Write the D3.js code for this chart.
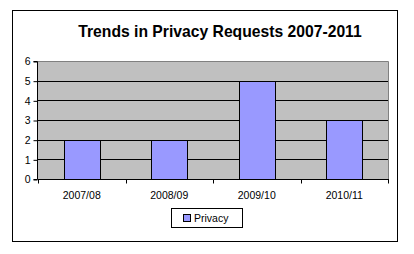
<!DOCTYPE html>
<html lang="en">
<head>
	<meta charset="utf-8">
	<title>Trends in Privacy Requests</title>
	<style>
		body { margin: 0; background: #fff; }
		text { font-family: "Liberation Sans", Arial, sans-serif; }
	</style>
	<script type="text/javascript" src="https://d3js.org/d3.v7.min.js"></script>
</head>
<body>
	<script type="text/javascript">
            var years = ["2007/08", "2008/09", "2009/10", "2010/11"];
            var privacy = [2, 2, 5, 3];
            var yTicks = [0, 1, 2, 3, 4, 5, 6];

            var w = 414, h = 254;
            var pLeft = 38, pRight = 388, pTop = 61, pBottom = 179;

            var svg = d3.select("body").append("svg")
                .attr("width", w)
                .attr("height", h);

            // outer frame
            svg.append("rect")
                .attr("x", 12.5).attr("y", 10.5)
                .attr("width", 385).attr("height", 231)
                .attr("fill", "white").attr("stroke", "black");

            svg.append("text")
                .attr("x", 220).attr("y", 37)
                .attr("text-anchor", "middle")
                .attr("font-size", "15.7px")
                .attr("font-weight", "bold")
                .text("Trends in Privacy Requests 2007-2011");

            var x = d3.scaleBand()
                .domain(years)
                .range([pLeft, pRight])
                .paddingInner(0.59)
                .paddingOuter(0.295);
            var y = d3.scaleLinear()
                .domain([0, 6])
                .range([pBottom, pTop]);

            // plot area
            svg.append("rect")
                .attr("x", pLeft).attr("y", pTop)
                .attr("width", pRight - pLeft).attr("height", pBottom - pTop)
                .attr("fill", "#c0c0c0");
            svg.append("path")
                .attr("d", "M" + pLeft + "," + (pTop + 0.5) + "H" + (pRight + 0.5) + "V" + pBottom)
                .attr("fill", "none").attr("stroke", "#808080");

            svg.selectAll("line.grid")
                .data(yTicks.filter(d => d > 0 && d < 6))
                .enter().append("line")
                .attr("class", "grid")
                .attr("x1", pLeft).attr("x2", pRight)
                .attr("y1", d => Math.round(y(d)) + 0.5)
                .attr("y2", d => Math.round(y(d)) + 0.5)
                .attr("stroke", "black");

            svg.selectAll("rect.bar")
                .data(privacy)
                .enter().append("rect")
                .attr("class", "bar")
                .attr("x", (d, i) => Math.round(x(years[i])) + 0.5)
                .attr("y", d => Math.round(y(d)) + 0.5)
                .attr("width", Math.round(x.bandwidth()))
                .attr("height", d => Math.round(y(0)) - Math.round(y(d)))
                .attr("fill", "#9999ff")
                .attr("stroke", "black");

            // y axis
            var yAxis = d3.axisLeft(y)
                .tickValues(yTicks)
                .tickSize(4)
                .tickPadding(3)
                .tickFormat(d3.format("d"));
            var gy = svg.append("g")
                .attr("transform", "translate(" + (pLeft - 0.5) + ",0.5)")
                .call(yAxis);
            gy.select(".domain").attr("d", "M-4," + pTop + "H0V" + pBottom + "H-4");
            gy.selectAll("text").attr("font-size", "10.5px").attr("font-family", null);
            gy.selectAll("line").attr("stroke", "black");

            // x axis with ticks between categories
            var gx = svg.append("g")
                .attr("transform", "translate(0," + (pBottom + 0.5) + ")");
            gx.append("line")
                .attr("x1", pLeft).attr("x2", pRight + 1)
                .attr("stroke", "black");
            gx.selectAll("line.tick")
                .data(d3.range(years.length + 1))
                .enter().append("line")
                .attr("class", "tick")
                .attr("x1", i => Math.round(pLeft + i * x.step()) + 0.5)
                .attr("x2", i => Math.round(pLeft + i * x.step()) + 0.5)
                .attr("y1", 0).attr("y2", 4)
                .attr("stroke", "black");
            gx.selectAll("text")
                .data(years)
                .enter().append("text")
                .attr("x", d => x(d) + x.bandwidth() / 2)
                .attr("y", 19)
                .attr("text-anchor", "middle")
                .attr("font-size", "10.5px")
                .text(d => d);

            // legend
            var lg = svg.append("g");
            lg.append("rect")
                .attr("x", 171.5).attr("y", 208.5)
                .attr("width", 71).attr("height", 19)
                .attr("fill", "white").attr("stroke", "black");
            lg.append("rect")
                .attr("x", 183.5).attr("y", 214.5)
                .attr("width", 7).attr("height", 7)
                .attr("fill", "#9999ff").attr("stroke", "black");
            lg.append("text")
                .attr("x", 194).attr("y", 222)
                .attr("font-size", "10.5px")
                .text("Privacy");
        </script>
</body>
</html>
